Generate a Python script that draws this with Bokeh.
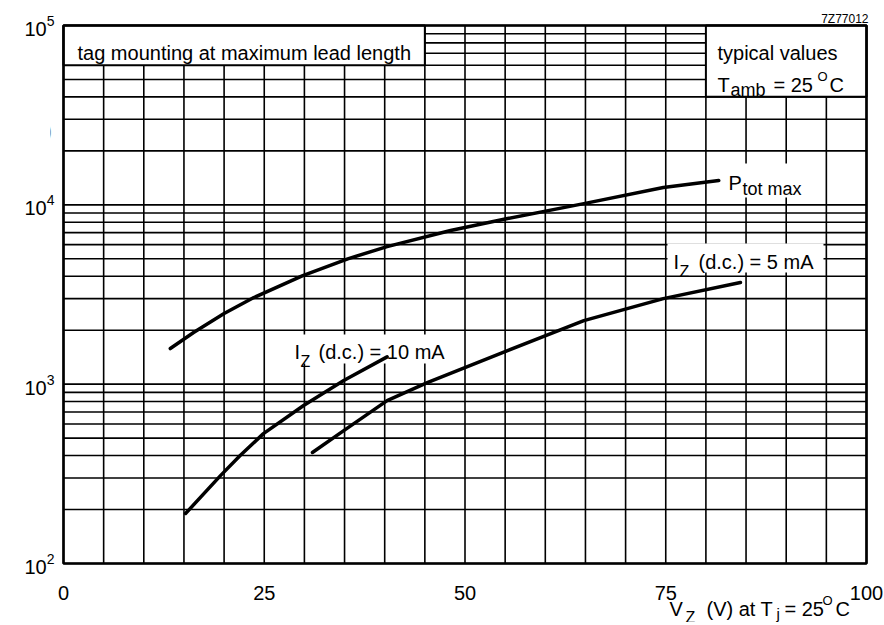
from bokeh.plotting import figure
from bokeh.models import FixedTicker, Label, Range1d
from bokeh.embed import file_html
from bokeh.resources import INLINE

# ---- data ----
VZ_PTOT = [13.3, 16.2, 20.0, 23.7, 29.8, 35.4, 40.3, 48.2, 55.3, 64.8, 74.7, 81.6]
DVZ_PTOT = [1580, 1940, 2480, 3040, 4030, 5000, 5850, 7190, 8390, 10160, 12490, 13660]

VZ_10MA = [15.2, 19.55, 22.0, 24.9, 29.9, 34.9, 40.3]
DVZ_10MA = [190, 309, 400, 530, 760, 1047, 1420]

VZ_5MA = [31.0, 34.9, 40.3, 45.3, 55.3, 64.8, 74.7, 84.3]
DVZ_5MA = [416, 551, 810, 1021, 1540, 2260, 3000, 3690]

X_TICKS = [0, 25, 50, 75, 100]
Y_TICKS = [100, 1000, 10000, 100000]
X_GRID = list(range(0, 101, 5))
Y_GRID = [m * 10 ** e for e in (2, 3, 4) for m in range(1, 10)] + [100000]

FONT = "Liberation Sans"

# ---- layout: chart box spans canvas px x 63..866, y 25..563 ----
W, H = 884, 622
CX0, CX1, CY0, CY1 = 63, 866, 25, 563
FL, FR = 50, W  # frame horizontal extent (wide enough for the tick labels)


def xd(px):
    return (px - CX0) / (CX1 - CX0) * 100.0


def yd(py):
    return 10 ** (5 - (py - CY0) / (CY1 - CY0) * 3.0)


# the frame covers the full canvas height so that all texts lie inside it
p = figure(width=W, height=H, x_range=Range1d(xd(FL), xd(FR)),
           y_range=Range1d(yd(H), yd(0)), y_axis_type="log", x_axis_location=None,
           output_backend="svg", toolbar_location=None, title=None,
           min_border_left=FL, min_border_right=W - FR,
           min_border_top=0, min_border_bottom=0)

p.background_fill_color = "white"
p.border_fill_color = "white"
p.outline_line_color = None
p.grid.visible = False

p.yaxis.ticker = FixedTicker(ticks=Y_TICKS)
p.yaxis.axis_line_color = None
p.yaxis.major_tick_in = 0
p.yaxis.major_tick_out = 0
p.yaxis.minor_tick_in = 0
p.yaxis.minor_tick_out = 0
p.yaxis.major_label_text_font = FONT
p.yaxis.major_label_text_font_size = "20px"
p.yaxis.major_label_text_color = "black"
p.yaxis.major_label_standoff = -4

# grid lines limited to the chart box
nx, ny = len(X_GRID), len(Y_GRID)
p.segment(x0=X_GRID, y0=[Y_GRID[0]] * nx, x1=X_GRID, y1=[Y_GRID[-1]] * nx,
          line_color="black", line_width=1.6)
p.segment(x0=[X_GRID[0]] * ny, y0=Y_GRID, x1=[X_GRID[-1]] * ny, y1=Y_GRID,
          line_color="black", line_width=1.6)

# white note boxes and label backgrounds
p.quad(left=[0, 80], right=[45, 100], bottom=[60000, 40000], top=[100000, 100000],
       fill_color="white", line_color="black", line_width=2)
p.quad(left=[xd(716), xd(287), xd(667)], right=[xd(814), xd(450), xd(823)],
       bottom=[yd(197), yd(363), yd(272)], top=[yd(163), yd(334), yd(243)],
       fill_color="white", line_color=None)

# chart border
p.quad(left=[X_GRID[0]], right=[X_GRID[-1]], bottom=[Y_GRID[0]], top=[Y_GRID[-1]],
       fill_color=None, line_color="black", line_width=2.6)

# curves
for xs, ys in ((VZ_PTOT, DVZ_PTOT), (VZ_10MA, DVZ_10MA), (VZ_5MA, DVZ_5MA)):
    p.line(xs, ys, line_color="black", line_width=3.5, line_cap="round", line_join="round")

# x tick labels (positioned through the x scale)
for v in X_TICKS:
    p.add_layout(Label(x=v, y=592, x_units="data", y_units="canvas", text=str(v),
                       text_font=FONT, text_font_size="20px", text_color="black",
                       text_align="center", text_baseline="alphabetic"))


def txt(text, px, py, size=20, align="left"):
    p.add_layout(Label(x=px, y=py, x_units="canvas", y_units="canvas", text=text,
                       text_font=FONT, text_font_size=f"{size}px", text_color="black",
                       text_align=align, text_baseline="alphabetic"))


txt("tag mounting at maximum lead length", 77, 52)
txt("typical values", 717, 52)
txt("T", 717, 84)
txt("amb", 730, 89, 18)
txt("= 25", 773, 84)
txt("O", 817, 76, 13)
txt("C", 829, 84)

txt("P", 728, 182)
txt("tot max", 742, 188, 18)

txt("I", 294, 351)
txt("Z", 300, 361, 16)
txt("(d.c.) = 10 mA", 318, 351)

txt("I", 673, 261)
txt("Z", 679, 271, 16)
txt("(d.c.) = 5 mA", 698, 261)

txt("\u0394V", 8, 98)
txt("Z", 37, 106, 16)
txt("(mV)", 8, 130)

txt("V", 669, 608)
txt("Z", 685, 617, 16)
txt("(V) at T", 706, 608)
txt("j", 776, 613, 15)
txt("= 25", 784, 608)
txt("O", 822, 600, 13)
txt("C", 835, 608)

txt("7Z77012", 868, 18, 12, align="right")

open("out.html", "w").write(file_html(p, INLINE))
